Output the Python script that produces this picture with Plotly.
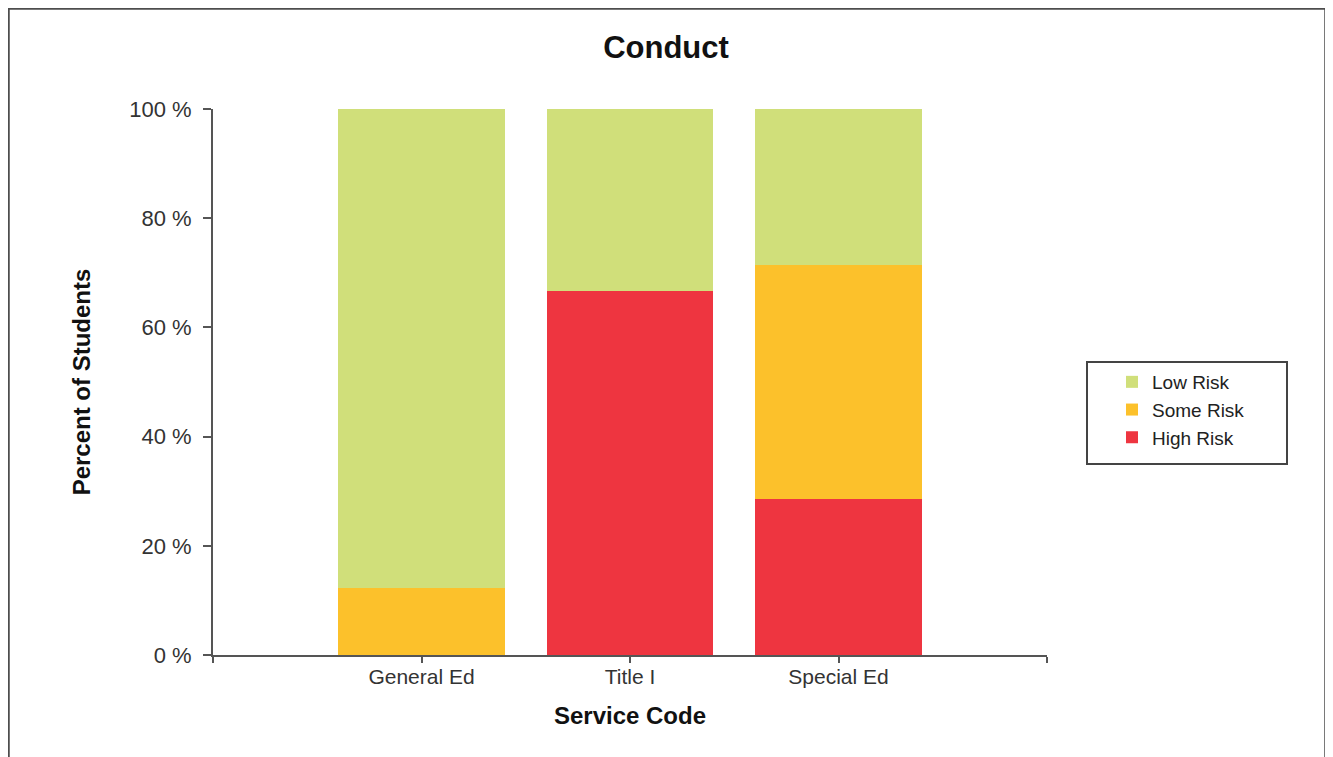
import plotly.graph_objects as go

categories = ["General Ed", "Title I", "Special Ed"]
high_risk = [0.0, 66.7, 28.6]
some_risk = [12.3, 0.0, 42.8]
low_risk = [87.7, 33.3, 28.6]
y_ticks = [0, 20, 40, 60, 80, 100]
y_ticktext = [f"{v} %" for v in y_ticks]

colors = {"Low Risk": "#D0DF7A", "Some Risk": "#FCC12B", "High Risk": "#EE3540"}

positions = list(range(1, len(categories) + 1))
x_tickvals = list(range(0, len(categories) + 2))
x_ticktext = [""] + categories + [""]

fig = go.Figure()
for name, vals in [("High Risk", high_risk), ("Some Risk", some_risk), ("Low Risk", low_risk)]:
    fig.add_trace(go.Bar(x=positions, y=vals, name=name, marker_color=colors[name],
                         marker_line_width=0, width=0.8))

# page has an 8px body margin; plot area target (viewport): x 213-1047, y 109-655
OFF = 8
PX0, PX1, PY0, PY1 = 213, 1047, 109, 655
W, H = 1333, 757


def px(v):
    return (v - PX0) / (PX1 - PX0)


def py(v):
    return (PY1 - v) / (PY1 - PY0)


font_main = "Liberation Sans, Arial, sans-serif"
fig.update_layout(
    width=W, height=H,
    barmode="stack",
    paper_bgcolor="white", plot_bgcolor="white",
    margin=dict(l=PX0 - OFF, r=W + OFF - PX1, t=PY0 - OFF, b=H + OFF - PY1),
    font=dict(family=font_main, color="#333333"),
    title=dict(text="<b>Conduct</b>", x=(666 - OFF) / W, xref="container", xanchor="center",
               y=1 - (47 - OFF) / H, yref="container", yanchor="middle",
               font=dict(size=31, color="#111111", family=font_main)),
    showlegend=True,
    legend=dict(x=px(1112), y=py(363), xanchor="left", yanchor="top",
                traceorder="reversed", borderwidth=0, tracegroupgap=0,
                bgcolor="rgba(0,0,0,0)", font=dict(size=19, color="#222222")),
    xaxis=dict(range=[0, len(categories) + 1], tickvals=x_tickvals, ticktext=x_ticktext,
               showgrid=False, zeroline=False, showline=True, linecolor="#555555", linewidth=2,
               ticks="outside", ticklen=6, tickcolor="#555555", tickwidth=1.5,
               ticklabelstandoff=-4,
               tickfont=dict(size=21, color="#333333"),
               title=dict(text="<b>Service Code</b>", standoff=20,
                          font=dict(size=24, color="#111111"))),
    yaxis=dict(range=[0, 100], tickvals=y_ticks, ticktext=y_ticktext,
               showgrid=False, zeroline=False, showline=True, linecolor="#555555", linewidth=2,
               ticks="outside", ticklen=8, tickcolor="#555555", tickwidth=1.5,
               ticklabelstandoff=7,
               tickfont=dict(size=22, color="#333333"),
               title=dict(text="<b>Percent of Students</b>", standoff=32,
                          font=dict(size=24, color="#111111"))),
    shapes=[
        dict(type="rect", xref="paper", yref="paper",
             x0=px(8.5), x1=px(1325.5), y0=py(800), y1=py(8.5),
             line=dict(color="#4d4d4d", width=2.5), fillcolor="rgba(0,0,0,0)", layer="below"),
        dict(type="rect", xref="paper", yref="paper",
             x0=px(1087), x1=px(1287), y0=py(464), y1=py(362),
             line=dict(color="#444444", width=2), fillcolor="white", layer="below"),
    ],
)

fig.write_html("out.html")
